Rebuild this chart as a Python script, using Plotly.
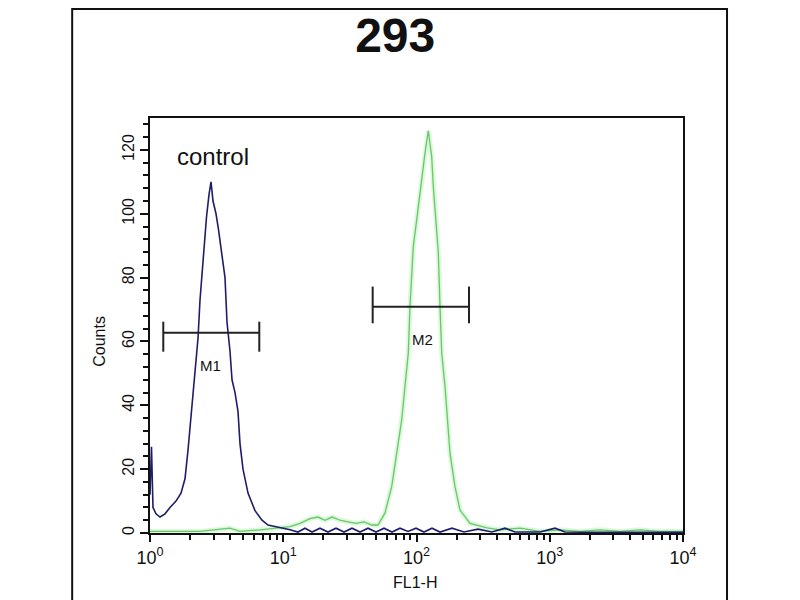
import math
import plotly.graph_objects as go

# ---------------- data ----------------
control_fl1 = [1.00, 1.026, 1.053, 1.109, 1.189, 1.296, 1.413, 1.567, 1.709, 1.831, 1.929,
               2.048, 2.177, 2.292, 2.373, 2.499, 2.655, 2.772, 2.870, 2.971, 3.129,
               3.267, 3.440, 3.655, 3.784, 3.984, 4.125, 4.345, 4.576, 4.736, 4.988,
               5.439, 6.138, 6.927, 7.686, 8.676, 10.30, 11.24, 12.90, 14.56, 16.44,
               18.87, 21.67, 24.88, 28.57, 32.80, 37.67, 43.25, 49.67, 57.03, 65.49,
               75.2, 86.35, 99.13, 113.8, 130.7, 150.1, 184.7, 227.2, 289.4, 368.6,
               461.6, 548.5, 845, 1095, 1301, 2383, 4757, 10000]
control_counts = [12, 27, 8, 6, 5, 6, 8, 10, 12.5, 17, 26,
                  38, 49, 61, 73, 85, 99, 106, 110, 104, 100,
                  95, 88, 80, 66, 57, 48, 44, 38, 28, 20,
                  12.5, 7, 4, 2.5, 2, 1.5, 1, 0.3, 1.5, 0.3,
                  1.5, 0.3, 1.5, 0.3, 1.5, 0.3, 1.5, 0.3, 1.5, 0.3,
                  1.5, 0.5, 1.5, 0.3, 1.5, 0.3, 1.5, 0.3, 1.2, 0.3,
                  1.5, 0.3, 0.3, 1.5, 0.3, 0.2, 0.2, 0.2]

sample_fl1 = [1.00, 1.413, 2.373, 3.984, 4.736, 6.69, 8.676, 11.24, 13.36, 15.88,
              18.23, 20.57, 23.22, 26.67, 30.61, 35.16, 40.37, 46.35, 51.42, 58.02,
              65.14, 71.02, 77.42, 81.97, 86.78, 89.36, 92.0, 94.6, 100.3, 104.4,
              109.4, 115.8, 122.6, 130.0, 133.7, 140.1, 145.8, 150.1, 154.6, 163.7,
              170.3, 178.4, 194.5, 212.1, 252.1, 338.1, 423.2, 598, 845, 1194,
              1687, 2383, 3367, 4757, 6721, 10000]
sample_counts = [0.5, 0.5, 0.5, 1.5, 0.5, 1, 1.5, 2, 3, 4.5,
                 5, 4, 5, 4, 3.5, 3, 3.5, 2.5, 2.5, 6.3,
                 14.5, 25, 35.4, 45.9, 56.4, 71, 79, 89.7, 98, 104,
                 110, 119, 126, 118, 108.5, 98, 87.8, 71, 56.4, 45.9,
                 35.4, 25, 14.5, 7.2, 3, 1.6, 1, 1.5, 0.5, 1,
                 0.5, 1, 0.5, 1, 0.5, 0.5]

gate_names = ["M1", "M2"]
gate_lo = [1.258, 46.9]
gate_hi = [6.61, 247.7]
gate_level = [62.7, 70.9]
gate_cap_lo = [56.8, 65.7]
gate_cap_hi = [66.2, 77.2]
gate_label_x = [2.82, 110]
gate_label_y = [52.4, 60.5]

control_label = "control"
control_label_x = 2.97
control_label_y = 117.9

x_tick_vals = [1, 10, 100, 1000, 10000]
x_tick_text = ["10<sup>0</sup>", "10<sup>1</sup>", "10<sup>2</sup>", "10<sup>3</sup>", "10<sup>4</sup>"]
y_tick_vals = [0, 20, 40, 60, 80, 100, 120]

FONT = "Liberation Sans, Arial, sans-serif"
BLUE = "#1d1d6b"
GREEN = "#6cc46c"

fig = go.Figure()

# green sample histogram: soft glow + line
fig.add_trace(go.Scatter(x=sample_fl1, y=sample_counts, mode="lines",
                         line=dict(color="rgba(150,240,150,0.35)", width=5),
                         hoverinfo="skip", showlegend=False))
fig.add_trace(go.Scatter(x=sample_fl1, y=sample_counts, mode="lines",
                         line=dict(color=GREEN, width=1.3), showlegend=False))
# control histogram
fig.add_trace(go.Scatter(x=control_fl1, y=control_counts, mode="lines",
                         line=dict(color=BLUE, width=1.6), showlegend=False))

# gate markers
for i, name in enumerate(gate_names):
    fig.add_trace(go.Scatter(x=[gate_lo[i], gate_hi[i]], y=[gate_level[i], gate_level[i]],
                             mode="lines", line=dict(color="#222222", width=2), showlegend=False))
    for xe in (gate_lo[i], gate_hi[i]):
        fig.add_trace(go.Scatter(x=[xe, xe], y=[gate_cap_lo[i], gate_cap_hi[i]],
                                 mode="lines", line=dict(color="#222222", width=2), showlegend=False))
    # annotations on a log axis take log10 positions
    fig.add_annotation(x=math.log10(gate_label_x[i]), y=gate_label_y[i], text=name, showarrow=False,
                       xref="x", yref="y", font=dict(family=FONT, size=15, color="#111111"))

fig.add_annotation(x=math.log10(control_label_x), y=control_label_y, text=control_label,
                   showarrow=False, xref="x", yref="y",
                   font=dict(family=FONT, size=24, color="#111111"))

# axis titles
fig.add_annotation(x=-0.094, y=0.463, xref="paper", yref="paper", text="Counts",
                   xanchor="center", yanchor="middle",
                   textangle=-90, showarrow=False, font=dict(family=FONT, size=16, color="#111111"))
fig.add_annotation(x=0.497, y=-0.12, xref="paper", yref="paper", text="FL1-H",
                   xanchor="center", yanchor="middle",
                   showarrow=False, font=dict(family=FONT, size=16, color="#111111"))

# outer frame
fig.add_shape(type="rect", xref="paper", yref="paper", x0=-0.146, x1=1.0826, y0=-0.2, y1=1.2627,
              line=dict(color="#111111", width=2), fillcolor="rgba(0,0,0,0)", layer="above")

fig.update_layout(
    width=800, height=600,
    margin=dict(l=142, r=125, t=110, b=75),
    paper_bgcolor="white", plot_bgcolor="white",
    title=dict(text="<b>293</b>", x=0.484, xanchor="center", y=0.955, yanchor="middle",
               font=dict(family=FONT, size=48, color="#111111")),
    font=dict(family=FONT, color="#111111"),
)
fig.update_xaxes(type="log", range=[0, 4], tickvals=x_tick_vals, ticktext=x_tick_text,
                 ticks="outside", ticklen=7, tickwidth=2, tickcolor="#111111",
                 showline=True, linecolor="#111111", linewidth=2, mirror=True,
                 showgrid=False, zeroline=False, tickfont=dict(size=18, family=FONT),
                 minor=dict(ticks="outside", ticklen=5, tickwidth=1.5, tickcolor="#111111", dtick="D1"))
fig.update_yaxes(range=[0, 130], tickvals=y_tick_vals, tickangle=-90,
                 ticks="outside", ticklen=8, tickwidth=2, tickcolor="#111111",
                 showline=True, linecolor="#111111", linewidth=2, mirror=True,
                 showgrid=False, zeroline=False, tickfont=dict(size=16, family=FONT),
                 minor=dict(ticks="outside", ticklen=5, tickwidth=1.5, tickcolor="#111111", dtick=4))

fig.write_html("out.html")
